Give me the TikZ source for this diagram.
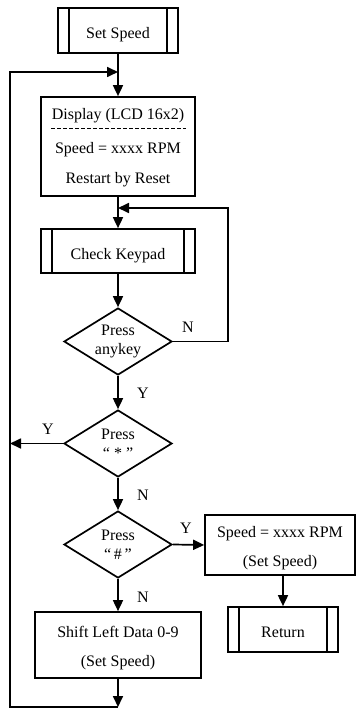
\documentclass[tikz,border=0pt]{standalone}
\usepackage{fontspec}
\setmainfont{Liberation Serif}
\usetikzlibrary{shapes.geometric,arrows.meta}
\tikzset{
  base/.style={draw, line width=1.7pt, inner sep=0pt, font=\fontsize{16}{19}\selectfont},
  plainbox/.style={base, rectangle},
  subproc/.style={base, rectangle, text height=16pt, text depth=0pt,
    path picture={\draw[line width=1.7pt]
      ([xshift=11pt]path picture bounding box.north west) -- ([xshift=11pt]path picture bounding box.south west)
      ([xshift=-11pt]path picture bounding box.north east) -- ([xshift=-11pt]path picture bounding box.south east);}},
  decision/.style={base, diamond, align=center, minimum width=108pt, minimum height=67pt, aspect=1.6},
  txt/.style={inner sep=0pt, font=\fontsize{16}{19}\selectfont, text height=11pt, text depth=3pt},
  lbl/.style={inner sep=0pt, font=\fontsize{16}{19}\selectfont},
  arr/.style={line width=1.7pt, -{Triangle[length=11pt,width=10pt]}},
}
\begin{document}
\begin{tikzpicture}[x=1pt,y=-1pt]
\useasboundingbox (0,0) rectangle (357,711);
% nodes
\node[subproc, minimum width=120pt, minimum height=45pt] (setspeed) at (118,30.5) {Set Speed};
\node[plainbox, minimum width=154pt, minimum height=99pt] (display) at (118,146.5) {};
\node[txt] (dispA) at (118,116) {Display (LCD 16x2)};
\node[txt] (dispB) at (118,150) {Speed = xxxx RPM};
\node[txt] (dispC) at (118,180) {Restart by Reset};
\draw[line width=0.8pt, dash pattern=on 4pt off 2pt] ([xshift=11pt]display.west |- 0,128) -- ([xshift=-10pt]display.east |- 0,128);
\node[subproc, minimum width=154pt, minimum height=44pt] (check) at (118,251) {Check Keypad};
\node[decision] (dany) at (118,341.5) {Press\\anykey};
\node[decision] (dstar) at (118,443.5) {Press\\“ * ”};
\node[decision] (dhash) at (118,544.5) {Press\\“\,\#\,”};
\node[plainbox, minimum width=150pt, minimum height=60pt] (speed) at (280,545) {};
\node[txt] (speedA) at (280,533) {Speed = xxxx RPM};
\node[txt] (speedB) at (280,562) {(Set Speed)};
\node[subproc, minimum width=110pt, minimum height=45pt] (ret) at (283,629.5) {Return};
\node[plainbox, minimum width=166pt, minimum height=66pt] (shift) at (118,645) {};
\node[txt] (shiftA) at (118,633) {Shift Left Data 0-9};
\node[txt] (shiftB) at (118,662) {(Set Speed)};
% junctions
\coordinate (j1) at (118,72);
\coordinate (j2) at (118,208);
\coordinate (lft) at (10,0);
\coordinate (rgt) at (228,0);
\coordinate (bot) at (118,707);
% connectors
\draw[arr] (setspeed) -- (display);
\draw[arr] (display) -- (check);
\draw[arr] (check) -- (dany);
\draw[arr] (dany) -- (dstar);
\draw[arr] (dstar) -- (dhash);
\draw[arr] (dhash) -- (shift);
\draw[arr] (dhash.east) -- (speed.west);
\draw[arr] (ret.north |- speed.south) -- (ret.north);
\draw[arr] (dany.east) -- (rgt |- dany.east) -- (rgt |- j2) -- (j2);
\draw[arr] (dstar.west) -- (lft |- dstar.west);
\draw[arr] (shift) -- (bot);
\draw[arr] (bot) -- (lft |- bot) -- (lft |- j1) -- (j1);
% labels
\node[lbl] (nAny) at (188,327) {N};
\node[lbl] (yAny) at (143,393) {Y};
\node[lbl] (yStar) at (48,429) {Y};
\node[lbl] (nStar) at (143,495) {N};
\node[lbl] (yHash) at (186,528) {Y};
\node[lbl] (nHash) at (143,597) {N};
\end{tikzpicture}
\end{document}
